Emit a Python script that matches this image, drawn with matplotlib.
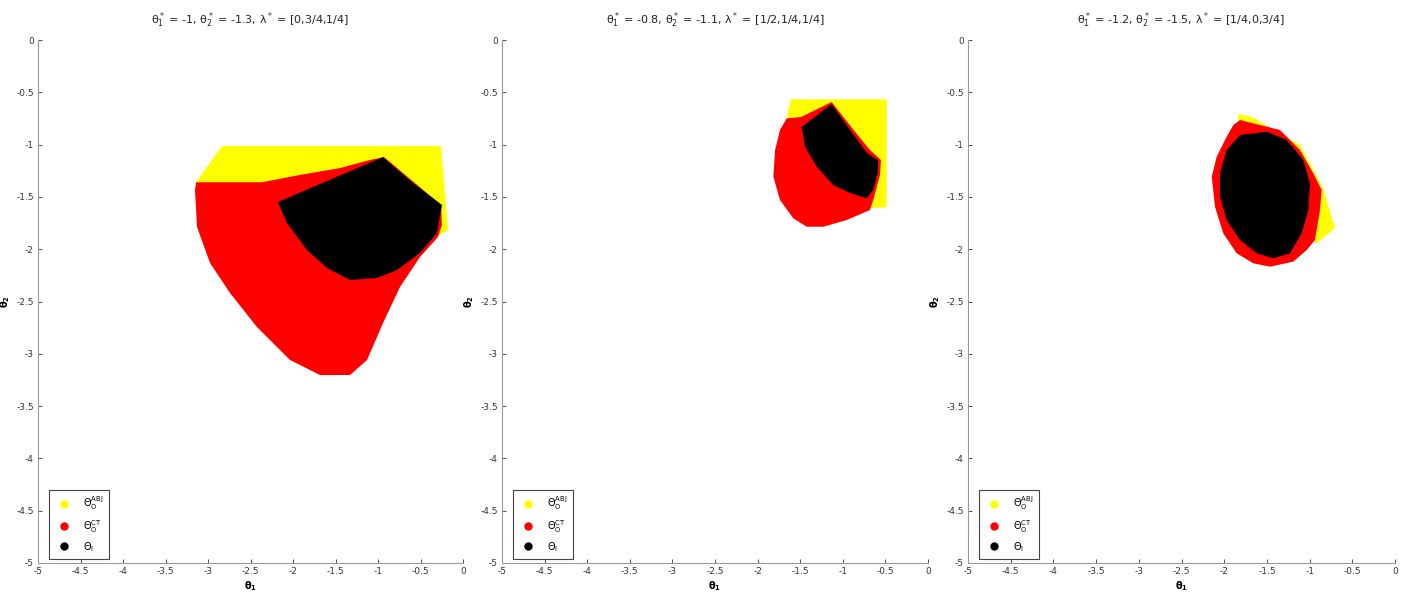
import matplotlib.pyplot as plt
from matplotlib.lines import Line2D

# panel titles
titles = [r"θ$^*_1$ = -1, θ$^*_2$ = -1.3, λ$^*$ = [0,3/4,1/4]",
          r"θ$^*_1$ = -0.8, θ$^*_2$ = -1.1, λ$^*$ = [1/2,1/4,1/4]",
          r"θ$^*_1$ = -1.2, θ$^*_2$ = -1.5, λ$^*$ = [1/4,0,3/4]"]

# region outlines (theta1, theta2)
abj_1 = [(-2.835, -1.013), (-0.259, -1.013), (-0.176, -1.816), (-0.741, -2.103),
         (-2.388, -1.530), (-3.141, -1.358)]
ct_1 = [(-3.14, -1.36), (-2.365, -1.36), (-1.918, -1.29), (-1.447, -1.224),
        (-1.094, -1.147), (-0.929, -1.119), (-0.259, -1.577), (-0.247, -1.769),
        (-0.294, -1.883), (-0.506, -2.075), (-0.741, -2.361), (-0.941, -2.706),
        (-1.129, -3.059), (-1.329, -3.203), (-1.682, -3.203), (-2.035, -3.059),
        (-2.424, -2.744), (-2.741, -2.419), (-2.976, -2.132), (-3.129, -1.788),
        (-3.153, -1.434)]
i_1 = [(-2.176, -1.549), (-0.941, -1.119), (-0.588, -1.367), (-0.247, -1.577),
       (-0.306, -1.845), (-0.506, -2.036), (-0.776, -2.199), (-1.012, -2.275),
       (-1.329, -2.294), (-1.6, -2.18), (-1.835, -2.008), (-2.071, -1.75),
       (-2.153, -1.597)]

abj_2 = [(-1.611, -0.567), (-0.485, -0.567), (-0.485, -1.597), (-0.669, -1.606),
         (-1.658, -0.746)]
ct_2 = [(-1.658, -0.749), (-1.49, -0.736), (-1.131, -0.593), (-0.892, -0.841),
        (-0.681, -1.052), (-0.552, -1.147), (-0.563, -1.291), (-0.643, -1.530),
        (-0.681, -1.625), (-0.954, -1.721), (-1.228, -1.785), (-1.423, -1.785),
        (-1.58, -1.705), (-1.737, -1.530), (-1.815, -1.307), (-1.795, -1.052),
        (-1.737, -0.860)]
i_2 = [(-1.483, -0.832), (-1.131, -0.612), (-0.915, -0.860), (-0.716, -1.080),
       (-0.587, -1.147), (-0.587, -1.262), (-0.643, -1.434), (-0.72, -1.513),
       (-0.915, -1.463), (-1.115, -1.386), (-1.306, -1.211), (-1.444, -1.020)]

abj_3 = [(-1.838, -0.707), (-1.674, -0.736), (-1.112, -1.004), (-0.843, -1.415),
         (-0.703, -1.797), (-0.917, -1.944), (-1.347, -1.721), (-1.815, -1.147)]
ct_3 = [(-1.815, -0.765), (-1.581, -0.813), (-1.347, -0.86), (-1.112, -1.052),
        (-0.957, -1.274), (-0.858, -1.434), (-0.878, -1.625), (-0.937, -1.912),
        (-1.034, -2.008), (-1.191, -2.119), (-1.464, -2.167), (-1.659, -2.135),
        (-1.854, -2.039), (-2.011, -1.848), (-2.108, -1.594), (-2.146, -1.307),
        (-2.088, -1.116), (-1.971, -0.924), (-1.893, -0.813)]
i_3 = [(-1.815, -0.908), (-1.502, -0.877), (-1.268, -0.956), (-1.074, -1.147),
       (-0.995, -1.370), (-1.015, -1.625), (-1.093, -1.848), (-1.230, -2.039),
       (-1.425, -2.087), (-1.62, -2.039), (-1.815, -1.912), (-1.971, -1.721),
       (-2.049, -1.498), (-2.049, -1.274), (-1.971, -1.052)]

panels = [(abj_1, ct_1, i_1), (abj_2, ct_2, i_2), (abj_3, ct_3, i_3)]
lefts = [38, 502, 968]
widths = [425, 426, 427]

ticks = [-5, -4.5, -4, -3.5, -3, -2.5, -2, -1.5, -1, -0.5, 0]
tick_labels = ["-5", "-4.5", "-4", "-3.5", "-3", "-2.5", "-2", "-1.5", "-1", "-0.5", "0"]

W, H = 1405, 596
fig = plt.figure(figsize=(W / 100, H / 100), dpi=100)

for k in range(3):
    ax = fig.add_axes([lefts[k] / W, 1 - 563 / H, widths[k] / W, 523 / H])
    abj, ct, inner = panels[k]
    for pts, col in [(abj, "#ffff00"), (ct, "#ff0000"), (inner, "black")]:
        ax.fill([p[0] for p in pts], [p[1] for p in pts], color=col, lw=0)
    ax.set_xlim(-5, 0)
    ax.set_ylim(-5, 0)
    ax.set_xticks(ticks)
    ax.set_xticklabels(tick_labels)
    ax.set_yticks(ticks)
    ax.set_yticklabels(tick_labels)
    ax.tick_params(direction="in", length=3, width=0.6, labelsize=6.5, colors="#333333", pad=3)
    ax.spines["top"].set_visible(False)
    ax.spines["right"].set_visible(False)
    ax.spines["left"].set_color("#999999")
    ax.spines["bottom"].set_color("#999999")
    ax.set_title(titles[k], fontsize=8, pad=12, color="#222222")
    ax.set_xlabel(r"$\mathbf{\theta_1}$", fontsize=7, labelpad=2)
    ax.set_ylabel(r"$\mathbf{\theta_2}$", fontsize=7, labelpad=3)

    handles = [Line2D([], [], ls="none", marker="o", ms=5, mfc=c, mec=c)
               for c in ["#ffff00", "#ff0000", "black"]]
    leg = ax.legend(handles, [r"Θ$_\mathrm{O}^\mathrm{ABJ}$", r"Θ$_\mathrm{O}^\mathrm{CT}$",
                              r"Θ$_\mathrm{I}$"],
                    loc="lower left", fontsize=7, fancybox=False, framealpha=1,
                    edgecolor="#444444", borderpad=0.5, labelspacing=0.55,
                    handletextpad=1.0, borderaxespad=0.3,
                    bbox_to_anchor=(0.02, 0.003))
    leg.get_frame().set_linewidth(0.8)

fig.savefig("out.png", dpi=100)
